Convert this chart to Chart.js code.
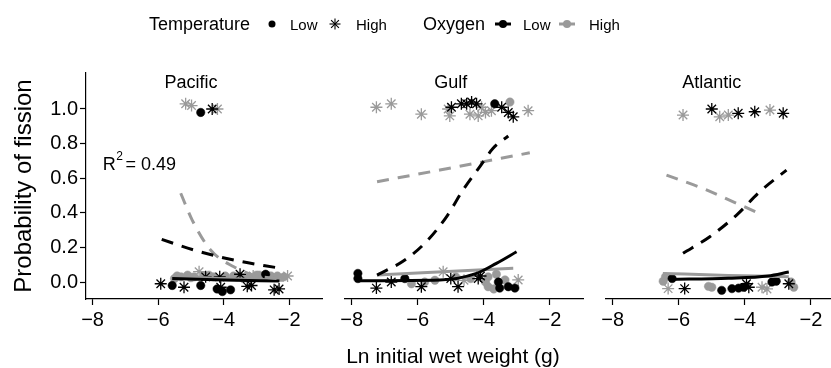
<!DOCTYPE html>
<html>
<head>
<meta charset="utf-8">
<script src="https://cdn.jsdelivr.net/npm/chart.js@4.4.0/dist/chart.umd.min.js"></script>
<style>
  body { margin: 0; width: 831px; height: 368px; overflow: hidden; background: #fff; position: relative;
         font-family: "Liberation Sans", Arial, sans-serif; color: #000; }
  canvas { position: absolute; top: 0; }
  .lg { position: absolute; white-space: nowrap; }
  .lg-title { font-size: 18px; line-height: 18px; top: 15px; }
  .lg-label { font-size: 15px; line-height: 15px; top: 17px; }
  .lg-key { position: absolute; top: 14px; }
  #xtitle { position: absolute; left: 0; width: 906px; text-align: center; top: 345px; font-size: 21px; line-height: 21px; }
</style>
</head>
<body>
<canvas id="pacific" width="340" height="368" style="left:0px"></canvas>
<canvas id="gulf" width="286" height="368" style="left:315px"></canvas>
<canvas id="atlantic" width="286" height="368" style="left:576px"></canvas>

<span class="lg lg-title" style="left:149px">Temperature</span>
<svg class="lg-key" style="left:262px" width="20" height="20"><circle cx="10" cy="10" r="3.5" fill="#000"/></svg>
<span class="lg lg-label" style="left:290px">Low</span>
<svg class="lg-key" style="left:325px" width="20" height="20" stroke="#000" stroke-width="1.1">
  <line x1="10" y1="4.5" x2="10" y2="15.5"/><line x1="4.5" y1="10" x2="15.5" y2="10"/>
  <line x1="6.1" y1="6.1" x2="13.9" y2="13.9"/><line x1="13.9" y1="6.1" x2="6.1" y2="13.9"/>
</svg>
<span class="lg lg-label" style="left:356px">High</span>
<span class="lg lg-title" style="left:423px">Oxygen</span>
<svg class="lg-key" style="left:493px" width="20" height="20"><line x1="2" y1="10" x2="18" y2="10" stroke="#000" stroke-width="3"/><circle cx="10" cy="10" r="4" fill="#000"/></svg>
<span class="lg lg-label" style="left:523px">Low</span>
<svg class="lg-key" style="left:557px" width="20" height="20"><line x1="2" y1="10" x2="18" y2="10" stroke="#9a9a9a" stroke-width="3"/><circle cx="10" cy="10" r="4" fill="#9a9a9a"/></svg>
<span class="lg lg-label" style="left:589px">High</span>

<div id="xtitle">Ln initial wet weight (g)</div>

<script>
// ---- axes ----
const xTicks = [-8, -6, -4, -2];
const yTicks = [0, 0.2, 0.4, 0.6, 0.8, 1.0];
const xMin = -8.2, xMax = -1.0;
const yMin = -0.098, yMax = 1.208;

// ---- raw points (x = ln weight, y = fission, temperature, oxygen) ----
const pacificX = [-5.16, -4.98, -4.70, -4.35, -4.19,
  -5.92, -5.57, -5.50, -5.30, -5.21, -5.10, -4.90, -4.75, -4.70, -4.55, -4.45, -4.20, -4.12, -4.09,
  -4.04, -3.95, -3.79, -3.60, -3.50, -3.40, -3.28, -3.15, -3.10, -2.92, -2.72, -2.56, -2.46, -2.31, -2.16, -2.05,
  -5.42, -5.00, -4.60, -4.30, -3.70, -3.22, -3.00, -2.80, -2.36];
const pacificY = [1.03, 1.02, 0.98, 1.00, 1.00,
  -0.01, -0.02, 0.02, 0.03, -0.03, 0.04, 0.03, 0.06, -0.02, 0.03, 0.04, -0.04, 0.03, -0.03,
  -0.055, 0.035, -0.045, 0.03, 0.045, 0.02, -0.025, -0.02, 0.035, 0.04, 0.045, 0.035, -0.045, -0.04, 0.03, 0.035,
  0.035, 0.025, 0.035, 0.03, 0.035, 0.03, 0.04, 0.03, 0.035];
const pacificTemp = ["High", "High", "Low", "High", "High",
  "High", "Low", "Low", "Low", "High", "Low", "Low", "High", "Low", "High", "Low", "Low", "High", "High",
  "Low", "Low", "Low", "Low", "High", "Low", "High", "High", "High", "Low", "Low", "Low", "High", "High", "Low", "High",
  "Low", "Low", "Low", "Low", "Low", "Low", "Low", "Low", "Low"];
const pacificOxy = ["High", "High", "Low", "Low", "High",
  "Low", "Low", "High", "High", "Low", "High", "High", "High", "Low", "Low", "High", "Low", "Low", "Low",
  "Low", "High", "Low", "High", "Low", "High", "Low", "Low", "High", "High", "Low", "High", "Low", "Low", "High", "High",
  "High", "High", "High", "High", "High", "High", "High", "High", "High"];

const gulfX = [-7.25, -6.80, -5.89, -5.08, -5.03, -4.98, -4.68, -4.52, -4.42, -4.37, -4.22, -4.17, -4.07,
  -3.95, -3.77, -3.67, -3.46, -3.26, -3.21, -3.11, -2.66,
  -7.81, -7.81, -7.25, -6.80, -6.39, -6.19, -5.89, -5.79, -5.48, -5.23, -5.00, -4.85, -4.78, -4.60,
  -4.40, -4.17, -4.10, -3.95, -3.87, -3.87, -3.70, -3.62, -3.56, -3.52, -3.36, -3.26, -3.06, -2.96];
const gulfY = [1.01, 1.03, 0.97, 1.00, 0.96, 1.01, 1.03, 1.03, 0.97, 1.04, 1.03, 0.96, 1.01,
  0.98, 0.99, 1.03, 1.01, 0.98, 1.04, 0.955, 0.99,
  0.05, 0.02, -0.035, 0.0, 0.02, -0.01, -0.027, 0.0, 0.01, 0.06, 0.02, 0.03, -0.027, 0.01,
  0.02, 0.02, 0.035, 0.0, 0.03, -0.027, -0.04, 0.045, 0.0, -0.035, 0.012, -0.027, -0.035, 0.012];
const gulfTemp = ["High", "High", "High", "High", "High", "High", "High", "High", "High", "High", "High", "High", "High",
  "High", "High", "Low", "High", "High", "Low", "High", "High",
  "Low", "Low", "High", "High", "Low", "Low", "High", "Low", "Low", "High", "High", "Low", "High", "High",
  "Low", "High", "High", "Low", "Low", "Low", "Low", "Low", "Low", "Low", "Low", "Low", "Low", "High"];
const gulfOxy = ["High", "High", "High", "High", "High", "Low", "Low", "Low", "High", "Low", "Low", "High", "High",
  "High", "High", "Low", "Low", "Low", "High", "Low", "High",
  "Low", "Low", "Low", "Low", "Low", "High", "Low", "High", "High", "High", "Low", "High", "Low", "High",
  "High", "Low", "Low", "High", "High", "High", "High", "High", "Low", "Low", "High", "Low", "Low", "High"];

const atlanticX = [-5.87, -5.00, -4.76, -4.50, -4.20, -3.70, -3.24, -2.84,
  -6.47, -6.40, -6.32, -6.20, -5.82, -5.10, -5.00, -4.70, -4.39, -4.19, -4.04, -3.95, -3.88,
  -3.48, -3.33, -3.18, -3.05, -2.67, -2.60, -2.52];
const atlanticY = [0.965, 1.00, 0.955, 0.965, 0.975, 0.984, 0.994, 0.975,
  0.005, 0.03, -0.038, 0.02, -0.038, -0.025, -0.03, -0.048, -0.038, -0.035, -0.03, -0.01, -0.03,
  -0.03, -0.04, 0.0, 0.005, -0.01, 0.0, -0.03];
const atlanticTemp = ["High", "High", "High", "High", "High", "High", "High", "High",
  "Low", "Low", "High", "Low", "High", "Low", "Low", "Low", "Low", "Low", "Low", "High", "High",
  "High", "High", "Low", "Low", "High", "Low", "Low"];
const atlanticOxy = ["High", "Low", "High", "High", "Low", "Low", "High", "Low",
  "High", "High", "High", "Low", "Low", "High", "High", "Low", "Low", "Low", "Low", "Low", "Low",
  "High", "High", "Low", "Low", "Low", "High", "High"];

// ---- fitted curves [x, y]; dashed = high temperature, solid = low temperature ----
const pacificFitLowOxHighT = [[-5.89, 0.247], [-4.91, 0.185], [-3.69, 0.127], [-2.26, 0.079]];
const pacificFitHighOxHighT = [[-5.31, 0.513], [-4.96, 0.358], [-4.40, 0.185], [-3.69, 0.088], [-3.08, 0.04], [-2.36, 0.02]];
const pacificFitLowOxLowT = [[-5.57, 0.02], [-4.0, 0.012], [-2.3, 0.006]];
const pacificFitHighOxLowT = [[-5.55, 0.035], [-4.0, 0.02], [-2.16, 0.01]];

const gulfFitLowOxHighT = [[-7.23, 0.04], [-6.39, 0.127], [-5.74, 0.233], [-5.13, 0.377], [-4.63, 0.532], [-4.12, 0.667], [-3.72, 0.773], [-3.26, 0.844]];
const gulfFitHighOxHighT = [[-7.23, 0.58], [-5.33, 0.647], [-2.61, 0.747]];
const gulfFitLowOxLowT = [[-7.81, 0.008], [-5.33, 0.012], [-4.22, 0.05], [-3.62, 0.108], [-3.01, 0.175]];
const gulfFitHighOxLowT = [[-7.23, 0.04], [-3.11, 0.079]];

const atlanticFitLowOxHighT = [[-5.87, 0.166], [-5.06, 0.262], [-4.25, 0.387], [-3.55, 0.522], [-2.74, 0.647]];
const atlanticFitHighOxHighT = [[-6.37, 0.618], [-5.26, 0.54], [-4.25, 0.455], [-3.45, 0.387]];
const atlanticFitLowOxLowT = [[-6.27, 0.015], [-4.5, 0.022], [-3.3, 0.035], [-2.67, 0.058]];
const atlanticFitHighOxLowT = [[-6.48, 0.05], [-4.5, 0.038], [-2.67, 0.031]];

const labelPos = [-5, 1.15];
const r2Text = "0.49";

const BLACK = "#000000";
const GREY = "#9a9a9a";
const FONT = "'Liberation Sans', Arial, sans-serif";
Chart.defaults.font.family = FONT;
Chart.defaults.color = "#000";

const fmtMinus = v => (v < 0 ? "\u2212" + Math.abs(v) : String(v));

// facet label + R^2 drawn inside the panel
const panelText = {
  id: "panelText",
  afterDatasetsDraw(chart, args, opts) {
    const { ctx, scales: { x, y } } = chart;
    ctx.save();
    ctx.fillStyle = "#000";
    ctx.font = "18px " + FONT;
    ctx.textAlign = "center";
    ctx.textBaseline = "middle";
    ctx.fillText(opts.name, x.getPixelForValue(labelPos[0]), y.getPixelForValue(labelPos[1]));
    if (opts.r2) {
      let px = x.getPixelForValue(-7.69);
      const py = y.getPixelForValue(0.676);
      ctx.textAlign = "left";
      ctx.font = "18px " + FONT;
      ctx.fillText("R", px, py);
      px += ctx.measureText("R").width;
      ctx.font = "12px " + FONT;
      ctx.fillText("2", px + 0.5, py - 8);
      px += ctx.measureText("2").width + 3;
      ctx.font = "18px " + FONT;
      ctx.fillText("= " + opts.r2, px, py);
    }
    ctx.restore();
  }
};

function pointSet(xs, ys, temps, oxys, t, o) {
  const out = [];
  xs.forEach((v, i) => { if (temps[i] === t && oxys[i] === o) out.push({ x: v, y: ys[i] }); });
  return out;
}
const toXY = arr => arr.map(p => ({ x: p[0], y: p[1] }));

function makePanel(id, name, xs, ys, temps, oxys, fits, showY, r2) {
  const pts = (t, o, color, order) => ({
    type: "scatter",
    data: pointSet(xs, ys, temps, oxys, t, o),
    pointStyle: t === "Low" ? "circle" : "star",
    pointRadius: t === "Low" ? 4.2 : 6,
    pointBorderWidth: t === "Low" ? 0.5 : 1.3,
    backgroundColor: color,
    borderColor: color,
    order: order
  });
  const fit = (arr, color, dashed) => ({
    type: "scatter",
    data: toXY(arr),
    showLine: true,
    pointRadius: 0,
    borderColor: color,
    borderWidth: 3,
    borderDash: dashed ? [12, 9] : [],
    tension: 0.4,
    cubicInterpolationMode: "monotone",
    order: 0
  });

  return new Chart(document.getElementById(id), {
    type: "scatter",
    data: {
      datasets: [
        pts("Low", "High", GREY, 2), pts("High", "High", GREY, 2),
        pts("Low", "Low", BLACK, 1), pts("High", "Low", BLACK, 1),
        fit(fits[0], BLACK, true), fit(fits[1], GREY, true),
        fit(fits[2], BLACK, false), fit(fits[3], GREY, false)
      ]
    },
    options: {
      responsive: false,
      animation: false,
      events: [],
      layout: { padding: { top: 73, right: 18, bottom: 29, left: showY ? 0 : 30 } },
      plugins: {
        legend: { display: false },
        tooltip: { enabled: false },
        panelText: { name: name, r2: r2 }
      },
      scales: {
        x: {
          type: "linear", min: xMin, max: xMax,
          afterBuildTicks: s => { s.ticks = xTicks.map(v => ({ value: v })); },
          afterFit: s => { s.height = 40; },
          border: { display: true, color: "#000", width: 1.2 },
          grid: { display: true, drawOnChartArea: false, drawTicks: true, tickLength: 6, tickColor: "#000", tickWidth: 1.2 },
          ticks: { color: "#000", font: { size: 20 }, padding: 3, maxRotation: 0, callback: v => fmtMinus(v) }
        },
        y: {
          type: "linear", min: yMin, max: yMax, display: showY,
          afterBuildTicks: s => { s.ticks = yTicks.map(v => ({ value: v })); },
          afterFit: s => { if (showY) s.width = 86; },
          border: { display: true, color: "#000", width: 1.2 },
          grid: { display: true, drawOnChartArea: false, drawTicks: true, tickLength: 6, tickColor: "#000", tickWidth: 1.2 },
          ticks: { color: "#000", font: { size: 20 }, padding: 2, callback: v => v.toFixed(1) },
          title: { display: true, text: "Probability of fission", font: { size: 24 }, padding: { top: 10, bottom: 0 } }
        }
      }
    },
    plugins: [panelText]
  });
}

makePanel("pacific", "Pacific", pacificX, pacificY, pacificTemp, pacificOxy,
  [pacificFitLowOxHighT, pacificFitHighOxHighT, pacificFitLowOxLowT, pacificFitHighOxLowT], true, r2Text);
makePanel("gulf", "Gulf", gulfX, gulfY, gulfTemp, gulfOxy,
  [gulfFitLowOxHighT, gulfFitHighOxHighT, gulfFitLowOxLowT, gulfFitHighOxLowT], false, null);
makePanel("atlantic", "Atlantic", atlanticX, atlanticY, atlanticTemp, atlanticOxy,
  [atlanticFitLowOxHighT, atlanticFitHighOxHighT, atlanticFitLowOxLowT, atlanticFitHighOxLowT], false, null);
</script>
</body>
</html>
